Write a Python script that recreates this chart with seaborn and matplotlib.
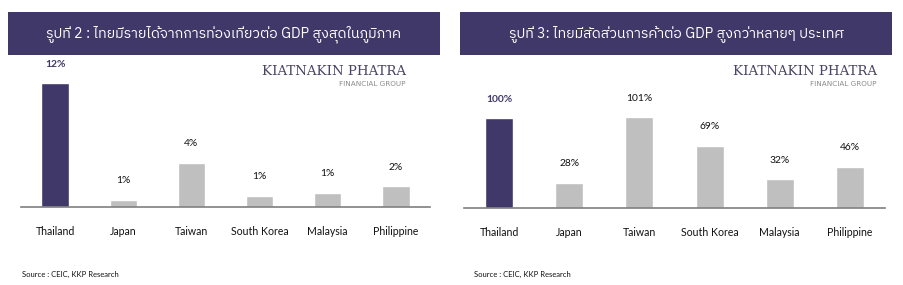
import matplotlib
matplotlib.use("Agg")
import matplotlib.pyplot as plt
import seaborn as sns
import pandas as pd
from matplotlib import font_manager
from matplotlib.ft2font import FT2Font
from matplotlib.patches import Rectangle

# ---------------- data ----------------
countries = ["Thailand", "Japan", "Taiwan", "South Korea", "Malaysia", "Philippine"]
tourism_gdp = [12.0, 0.7, 4.3, 1.1, 1.4, 2.0]
trade_gdp = [100, 28, 101, 69, 32, 46]
title_left = "รูปที่ 2 : ไทยมีรายได้จากการท่องเที่ยวต่อ GDP สูงสุดในภูมิภาค"
title_right = "รูปที่ 3: ไทยมีสัดส่วนการค้าต่อ GDP สูงกว่าหลายๆ ประเทศ"
source_text = "Source : CEIC, KKP Research"
logo_main = "KIATNAKIN PHATRA"
logo_sub = "FINANCIAL GROUP"

PURPLE = "#3F3868"
GREY = "#BFBFBF"
W, H = 904, 285

sns.set_style("white")


def find_thai_family():
    found = []
    for f in font_manager.fontManager.ttflist:
        try:
            if 0x0E01 in FT2Font(f.fname).get_charmap():
                found.append(f.name)
        except Exception:
            pass
    for pref in found:
        if "Thai" in pref:
            return pref
    return found[0] if found else "DejaVu Sans"


thai_family = find_thai_family()
plt.rcParams["font.family"] = ["Lato", "DejaVu Sans"]

fig = plt.figure(figsize=(W / 100, H / 100), dpi=100)
fig.patch.set_facecolor("white")


def fx(px):
    return px / W


def fy(py):
    return 1 - py / H


panels = [
    dict(vals=tourism_gdp, title=title_left, ax_px=(21, 430, 60, 207), ymax=12 * 147 / 124,
         head=(8, 440), logo_right=406),
    dict(vals=trade_gdp, title=title_right, ax_px=(464, 885, 60, 208), ymax=100 * 148 / 90,
         head=(460, 892), logo_right=877),
]

for p in panels:
    x0, x1, ytop, ybot = p["ax_px"]
    ax = fig.add_axes([fx(x0), fy(ybot), fx(x1 - x0), (ybot - ytop) / H])
    df = pd.DataFrame({"country": countries, "value": p["vals"]})
    colors = [PURPLE] + [GREY] * (len(countries) - 1)
    sns.barplot(data=df, x="country", y="value", hue="country", palette=colors,
                width=0.4, saturation=1, legend=False, ax=ax)
    ax.set_ylim(0, p["ymax"])
    ax.set_xlim(-0.5, len(countries) - 0.5)
    for s in ["top", "right", "left"]:
        ax.spines[s].set_visible(False)
    ax.spines["bottom"].set_color("#7F7F7F")
    ax.spines["bottom"].set_linewidth(1.2)
    ax.set_yticks([])
    ax.set_xlabel("")
    ax.set_ylabel("")
    ax.set_facecolor("none")
    ax.tick_params(axis="x", length=0, pad=13.5, labelsize=7.6, labelcolor="#111111")
    for i, v in enumerate(p["vals"]):
        first = i == 0
        ax.annotate(f"{v:.0f}%", (i, v), xytext=(0, 19), textcoords="offset pixels",
                    ha="center", va="center", fontsize=7.4,
                    color=PURPLE if first else "#111111",
                    fontweight="bold" if first else "normal")

    # header
    h0, h1 = p["head"]
    fig.patches.append(Rectangle((fx(h0), fy(55)), fx(h1 - h0), 43 / H,
                                 transform=fig.transFigure, facecolor=PURPLE,
                                 edgecolor="none", zorder=0))
    fig.text(fx((h0 + h1) / 2), fy(34), p["title"], ha="center", va="center",
             color="white", fontsize=10.2, family=[thai_family, "DejaVu Sans"])

    # logo
    fig.text(fx(p["logo_right"]), fy(71.5), logo_main, ha="right", va="center",
             fontsize=9.6, color="#4A4566", family=["DejaVu Serif", "Liberation Serif"])
    fig.text(fx(p["logo_right"]), fy(84), logo_sub, ha="right", va="center",
             fontsize=5.2, color="#8A8A8A", family=["DejaVu Sans"])

    # source
    fig.text(fx(h0 + 14), fy(274), source_text, ha="left", va="center",
             fontsize=5.5, color="#111111")

fig.savefig("out.png", dpi=100, facecolor="white")
